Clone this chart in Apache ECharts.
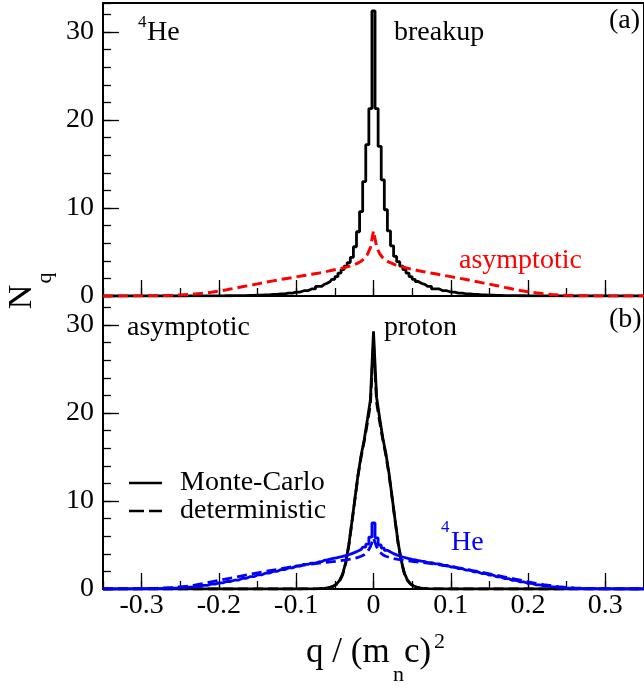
<!DOCTYPE html>
<html><head><meta charset="utf-8">
<script src="https://cdn.jsdelivr.net/npm/echarts@6/dist/echarts.min.js"></script>
<style>html,body{margin:0;padding:0;background:#fff}#c{width:644px;height:686px}</style>
</head><body><div id="c"></div>
<script>
// bin centres q/(m_n c)^2
const qBins = [
-0.35,-0.34,-0.33,-0.32,-0.31,-0.30,-0.29,-0.28,-0.27,-0.26,
-0.25,-0.24,-0.23,-0.22,-0.21,-0.20,-0.19,-0.18,-0.17,-0.16,
-0.15,-0.14,-0.13,-0.12,-0.11,-0.10,-0.09,-0.08,-0.07,
-0.064,-0.060,-0.056,-0.052,-0.048,-0.044,-0.040,-0.036,-0.032,-0.028,-0.024,-0.020,-0.016,-0.012,-0.008,-0.004,
0,
0.004,0.008,0.012,0.016,0.020,0.024,0.028,0.032,0.036,0.040,0.044,0.048,0.052,0.056,0.060,0.064,
0.07,0.08,0.09,0.10,0.11,0.12,0.13,0.14,0.15,0.16,
0.17,0.18,0.19,0.20,0.21,0.22,0.23,0.24,0.25,0.26,
0.27,0.28,0.29,0.30,0.31,0.32,0.33,0.34,0.35];

// panel (a): 4He breakup, Monte-Carlo histogram
const breakupMC = [
0,0,0,0,0,0,0,0,0,0, 0,0.01,0.01,0.01,0.02,0.02,0.03,0.04,0.05,0.07, 0.1,0.13,0.18,0.25,0.33,0.45,0.6,0.8,1.1,
1.3,1.45,1.65,1.9,2.2,2.6,3.0,3.4,3.8,4.4,5.6,7.3,9.6,13.0,17.2,21.3,
32.4,
21.3,17.0,13.2,9.8,7.4,5.7,4.5,3.9,3.4,3.0,2.6,2.2,1.9,1.65,1.45,1.3,
1.1,0.8,0.6,0.45,0.33,0.25,0.18,0.13,0.1,0.07, 0.05,0.04,0.03,0.02,0.02,0.01,0.01,0.01,0,0, 0,0,0,0,0,0,0,0,0];

// panel (a): 4He asymptotic (red dashed)
const asymptoticA = [
0,0,0,0.01,0.01,0.02,0.03,0.04,0.05,0.08, 0.12,0.17,0.24,0.32,0.42,0.55,0.7,0.88,1.05,1.2, 1.38,1.55,1.72,1.88,2.02,2.17,2.32,2.47,2.62,
2.72,2.8,2.88,2.95,3.02,3.1,3.18,3.27,3.37,3.48,3.6,3.75,3.95,4.25,4.7,5.5,
7.4,
5.6,4.8,4.35,4.05,3.85,3.7,3.55,3.45,3.35,3.25,3.15,3.07,3.0,2.92,2.85,2.78,
2.68,2.52,2.36,2.2,2.03,1.87,1.7,1.52,1.35,1.17, 0.98,0.8,0.63,0.48,0.36,0.26,0.18,0.12,0.08,0.05, 0.03,0.02,0.01,0.01,0,0,0,0,0];

// panel (b): proton, Monte-Carlo and deterministic
const protonMC = [
0,0,0,0,0,0,0,0,0,0, 0,0,0,0,0,0,0,0,0,0, 0,0,0,0,0,0,0.01,0.02,0.05,
0.08,0.12,0.2,0.32,0.55,0.95,1.7,3.0,5.0,7.6,10.3,13.0,15.2,17.0,19.2,21.5,
29.3,
21.8,19.4,17.2,15.4,13.2,10.5,7.8,5.2,3.2,1.8,1.0,0.58,0.34,0.21,0.13,0.08,
0.05,0.02,0.01,0,0,0,0,0,0,0, 0,0,0,0,0,0,0,0,0,0, 0,0,0,0,0,0,0,0,0];
const protonDet = [
0,0,0,0,0,0,0,0,0,0, 0,0,0,0,0,0,0,0,0,0, 0,0,0,0,0,0,0.01,0.02,0.04,
0.06,0.1,0.18,0.3,0.52,0.9,1.6,2.9,4.9,7.5,10.2,12.9,15.0,16.8,18.8,21.0,
28.0,
21.2,19.0,17.0,15.2,13.0,10.4,7.7,5.1,3.1,1.7,0.95,0.55,0.32,0.19,0.11,0.06,
0.04,0.02,0.01,0,0,0,0,0,0,0, 0,0,0,0,0,0,0,0,0,0, 0,0,0,0,0,0,0,0,0];

// panel (b): 4He, Monte-Carlo and deterministic
const heliumMC = [
0,0,0.01,0.01,0.02,0.03,0.04,0.05,0.07,0.11, 0.16,0.22,0.31,0.42,0.55,0.7,0.85,1.0,1.2,1.4, 1.6,1.8,2.0,2.2,2.4,2.6,2.8,2.95,3.1,
3.25,3.32,3.4,3.47,3.54,3.62,3.7,3.8,3.9,4.02,4.16,4.32,4.5,4.75,5.1,5.9,
7.5,
5.8,5.0,4.65,4.4,4.2,4.02,3.88,3.75,3.64,3.54,3.45,3.37,3.3,3.23,3.16,3.1,
3.0,2.85,2.68,2.5,2.32,2.14,1.95,1.76,1.57,1.38, 1.18,0.98,0.8,0.63,0.48,0.35,0.25,0.17,0.11,0.07, 0.05,0.03,0.02,0.01,0.01,0,0,0,0];
const heliumDet = [
0,0.01,0.01,0.02,0.03,0.04,0.06,0.09,0.13,0.18, 0.25,0.34,0.46,0.62,0.8,0.98,1.15,1.32,1.5,1.67, 1.84,2.0,2.15,2.3,2.45,2.6,2.72,2.84,2.94,
3.0,3.04,3.08,3.12,3.16,3.2,3.25,3.3,3.36,3.43,3.5,3.6,3.72,3.9,4.2,4.8,
5.8,
4.8,4.2,3.9,3.72,3.6,3.5,3.43,3.36,3.3,3.25,3.2,3.16,3.12,3.08,3.04,3.0,
2.94,2.83,2.7,2.56,2.4,2.24,2.07,1.9,1.72,1.54, 1.36,1.18,1.0,0.82,0.65,0.5,0.37,0.27,0.19,0.13, 0.09,0.06,0.04,0.03,0.02,0.01,0.01,0,0];

const xTickLabels = [-0.3,-0.2,-0.1,0,0.1,0.2,0.3];
const yTickLabels = [0,10,20,30];

const FONT = 'Liberation Serif';
const zip = v => qBins.map((q, i) => [q, v[i]]);

function xAxes(grid, labels) {
  const base = {gridIndex: grid, type: 'value', min: -0.35, max: 0.35, interval: 0.05,
    position: 'bottom', splitLine: {show: false}};
  return [
    Object.assign({}, base, {
      axisLine: {show: true, onZero: false, lineStyle: {color: '#000', width: 2}},
      axisTick: {show: true, inside: true, length: 8, lineStyle: {color: '#000', width: 1.3}},
      axisLabel: {show: false}
    }),
    Object.assign({}, base, {
      axisLine: {show: false, onZero: false},
      axisTick: {show: true, inside: true, length: 16, customValues: xTickLabels, lineStyle: {color: '#000', width: 1.3}},
      axisLabel: labels ? {show: true, customValues: xTickLabels, fontFamily: FONT, fontSize: 28, color: '#000', margin: 3,
        formatter: v => String(Math.round(v * 10) / 10)} : {show: false}
    })
  ];
}
function yAxes(grid) {
  const base = {gridIndex: grid, type: 'value', min: 0, max: 33.3, interval: 2,
    position: 'left', splitLine: {show: false}};
  return [
    Object.assign({}, base, {
      axisLine: {show: true, onZero: false, lineStyle: {color: '#000', width: 2}},
      axisTick: {show: true, inside: true, length: 8, lineStyle: {color: '#000', width: 1.3}},
      axisLabel: {show: false}
    }),
    Object.assign({}, base, {
      axisLine: {show: false, onZero: false},
      axisTick: {show: true, inside: true, length: 16, customValues: yTickLabels, lineStyle: {color: '#000', width: 1.3}},
      axisLabel: {show: true, customValues: yTickLabels, fontFamily: FONT, fontSize: 28, color: '#000', margin: 9,
        formatter: v => String(v)}
    })
  ];
}

function txt(x, y, text, size, color, extra) {
  return Object.assign({type: 'text', x: x, y: y, z: 100,
    style: {text: text, fill: color || '#000', fontFamily: FONT, fontSize: size, align: 'left', verticalAlign: 'middle'}}, extra || {});
}

const chart = echarts.init(document.getElementById('c'), null, {renderer: 'canvas'});
chart.setOption({
  animation: false,
  backgroundColor: '#fff',
  grid: [
    {left: 103, top: 3, width: 546, height: 293, show: true, borderColor: '#000', borderWidth: 2, backgroundColor: 'transparent'},
    {left: 103, top: 296, width: 546, height: 293, show: true, borderColor: '#000', borderWidth: 2, backgroundColor: 'transparent'}
  ],
  xAxis: xAxes(0, false).concat(xAxes(1, true)),
  yAxis: yAxes(0).concat(yAxes(1)),
  series: [
    {type: 'line', xAxisIndex: 0, yAxisIndex: 0, data: zip(breakupMC), step: 'middle', symbol: 'none',
      lineStyle: {color: '#000', width: 2.8}, z: 3},
    {type: 'line', xAxisIndex: 0, yAxisIndex: 0, data: zip(asymptoticA), symbol: 'none',
      lineStyle: {color: '#ff0000', width: 3, type: [10, 5]}, z: 4},
    {type: 'line', xAxisIndex: 2, yAxisIndex: 2, data: zip(protonMC), symbol: 'none',
      lineStyle: {color: '#000', width: 2.8}, z: 3},
    {type: 'line', xAxisIndex: 2, yAxisIndex: 2, data: zip(protonDet), symbol: 'none',
      lineStyle: {color: '#000', width: 2.8, type: [10, 5]}, z: 3},
    {type: 'line', xAxisIndex: 2, yAxisIndex: 2, data: zip(heliumMC), step: 'middle', symbol: 'none',
      lineStyle: {color: '#0000ff', width: 2.8}, z: 4},
    {type: 'line', xAxisIndex: 2, yAxisIndex: 2, data: zip(heliumDet), symbol: 'none',
      lineStyle: {color: '#0000ff', width: 2.8, type: [10, 5]}, z: 4}
  ],
  graphic: [
    // panel (a)
    txt(138, 23, '4', 17),
    txt(147, 33, 'He', 28),
    txt(394, 33, 'breakup', 28),
    txt(609, 21, '(a)', 28),
    txt(459, 261, 'asymptotic', 28, '#ff0000'),
    // panel (b)
    txt(609, 320, '(b)', 28),
    txt(127, 328, 'asymptotic', 28),
    txt(384, 328, 'proton', 28),
    txt(441, 528, '4', 17, '#0000ff'),
    txt(451, 543, 'He', 28, '#0000ff'),
    // legend
    {type: 'line', z: 100, shape: {x1: 129, y1: 483, x2: 162, y2: 483}, style: {stroke: '#000', lineWidth: 2.5}},
    {type: 'line', z: 100, shape: {x1: 129, y1: 511, x2: 162, y2: 511}, style: {stroke: '#000', lineWidth: 2.5, lineDash: [15, 5]}},
    txt(180, 483, 'Monte-Carlo', 28),
    txt(180, 511, 'deterministic', 28),
    // axis titles
    txt(22, 297, 'N', 34, '#000', {rotation: Math.PI / 2, style: {text: 'N', fill: '#000', fontFamily: FONT, fontSize: 34, align: 'center', verticalAlign: 'middle'}}),
    txt(45, 278, 'q', 22, '#000', {rotation: Math.PI / 2, style: {text: 'q', fill: '#000', fontFamily: FONT, fontSize: 22, align: 'center', verticalAlign: 'middle'}}),
    txt(306, 653, 'q / (m', 35),
    txt(393, 675, 'n', 22),
    txt(404, 653, 'c)', 35),
    txt(434, 642, '2', 22)
  ]
});
</script>
</body></html>
